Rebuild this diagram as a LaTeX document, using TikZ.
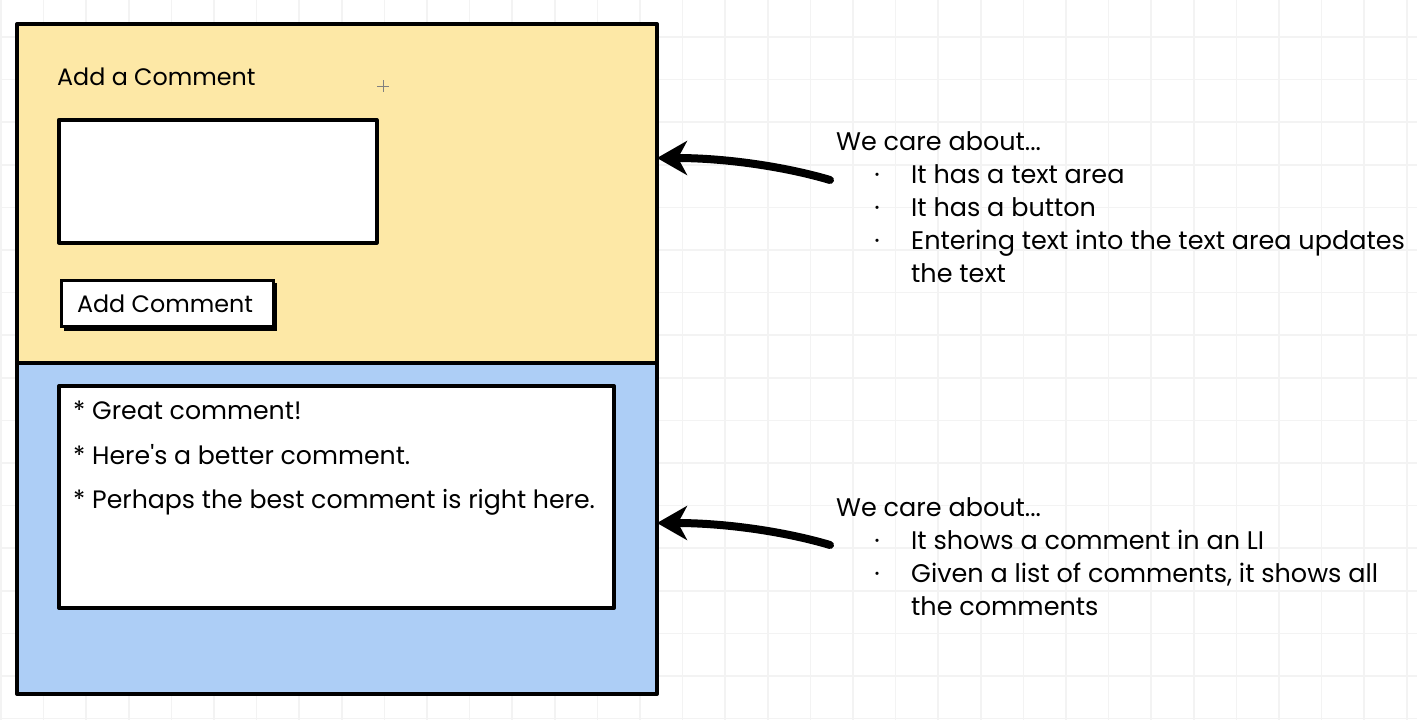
\documentclass[tikz,border=0pt]{standalone}
\usepackage{fontspec}
\newfontfamily\wf{Poppins}
\usetikzlibrary{arrows.meta}
\definecolor{wfyellow}{RGB}{253,232,166}
\definecolor{wfblue}{RGB}{173,206,246}
\definecolor{gridc}{RGB}{243,243,243}
\tikzset{
  gridline/.style={draw=gridc, line width=1.6pt},
  frame/.style={draw=black, line width=4pt, line join=round},
  txt/.style={inner sep=0pt, anchor=base west, font=\wf\fontsize{25.5}{30}\selectfont},
  ctxt/.style={txt, font=\wf\fontsize{25.2}{30}\selectfont},
  ftxt/.style={txt, font=\wf\fontsize{23.8}{28}\selectfont},
  bul/.style={inner sep=0pt, anchor=base, font=\wf\fontsize{25.5}{30}\selectfont},
  pointer/.style={draw=black, line width=8pt, line cap=round, -{Stealth[length=30pt,width=34pt,inset=9pt]}},
}
\begin{document}
\begin{tikzpicture}[x=1pt,y=-1pt]
\useasboundingbox (0,0) rectangle (1417,720);
\fill[white] (0,0) rectangle (1417,720);
% grid
\foreach \i in {0,...,33} \draw[gridline] ({1+42.6*\i},0) -- ({1+42.6*\i},720);
\foreach \j in {0,...,17} \draw[gridline] (0,{-5.6+42.6*\j}) -- (1417,{-5.6+42.6*\j});
% panels
\node[frame, fill=wfyellow, minimum width=640pt, minimum height=339pt, anchor=north west, inner sep=0pt] (formpanel) at (15,22) {};
\node[frame, fill=wfblue, minimum width=640pt, minimum height=331pt, anchor=north west, inner sep=0pt] (listpanel) at (15,361) {};
% form contents
\node[ftxt] (title) at (57,85) {Add a Comment};
\node[frame, fill=white, line width=3.5pt, minimum width=318pt, minimum height=123pt, anchor=north west, inner sep=0pt] (textarea) at (57,118) {};
\fill[black] (64,283) rectangle (277,331);
\node[draw=black, line width=2.5pt, fill=white, minimum width=212pt, minimum height=46pt, anchor=north west, inner sep=0pt] (button) at (60,279) {};
\node[ftxt, anchor=base] (buttontext) at (165,312) {Add Comment};
% cursor
\draw[gray, line width=0.6pt] (377,86) -- (389,86) (383,80) -- (383,92);
% list contents
\node[frame, fill=white, minimum width=555pt, minimum height=222pt, anchor=north west, inner sep=0pt] (commentbox) at (57,384) {};
\node[ctxt] (c1) at (73,419) {* Great comment!};
\node[ctxt] (c2) at (73,464) {* Here's a better comment.};
\node[ctxt] (c3) at (73,508) {* Perhaps the best comment is right here.};
% notes 1
\node[txt] (n1) at (836,150) {We care about...};
\node[bul] (b11) at (877,183) {·};
\node[txt] (n11) at (911,183) {It has a text area};
\node[bul] (b12) at (877,216) {·};
\node[txt] (n12) at (911,216) {It has a button};
\node[bul] (b13) at (877,249) {·};
\node[txt] (n13) at (911,249) {Entering text into the text area updates};
\node[txt] (n14) at (911,282) {the text};
% notes 2
\node[txt] (m1) at (836,516) {We care about...};
\node[bul] (b21) at (877,549) {·};
\node[txt] (m11) at (911,549) {It shows a comment in an LI};
\node[bul] (b22) at (877,582) {·};
\node[txt] (m12) at (911,582) {Given a list of comments, it shows all};
\node[txt] (m13) at (911,615) {the comments};
% arrows
\coordinate (s1) at (830,180);
\coordinate (e1) at (657,158);
\coordinate (s2) at (830,545);
\coordinate (e2) at (657,523);
\draw[pointer] (s1) .. controls (790,168) and (730,158) .. (e1);
\draw[pointer] (s2) .. controls (790,533) and (730,523) .. (e2);
\end{tikzpicture}
\end{document}
